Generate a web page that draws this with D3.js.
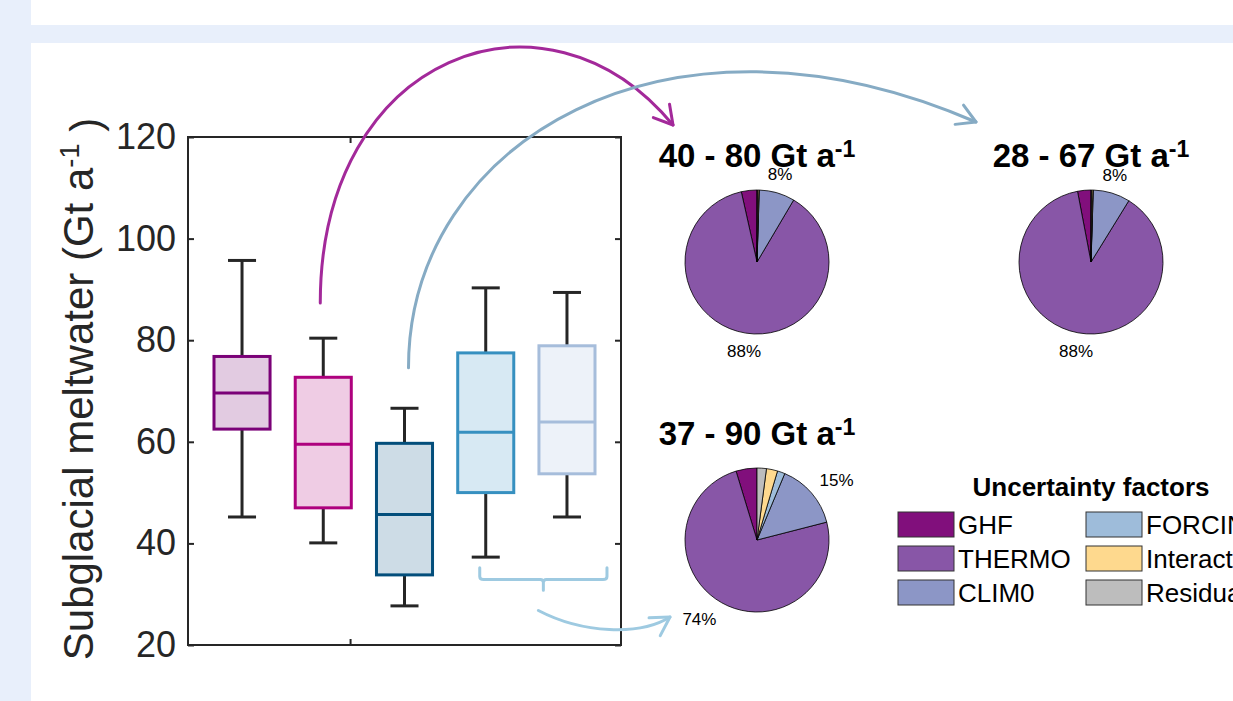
<!DOCTYPE html>
<html>
<head>
<meta charset="utf-8">
<script src="https://cdn.jsdelivr.net/npm/d3@7"></script>
<style>
  html, body { margin: 0; padding: 0; background: #e8effb; }
  svg { display: block; }
  text { font-family: "Liberation Sans", Arial, Helvetica, sans-serif; }
</style>
</head>
<body>
<svg id="chart" width="1233" height="701"></svg>
<script>
// ---- Box-plot statistics (Gt a^-1) for the five ensembles ----
const boxPositions = [1, 2, 3, 4, 5];
const whiskerLow  = [45.2, 40.1, 27.7, 37.3, 45.2];
const quartile1   = [62.5, 47.0, 33.8, 50.0, 53.7];
const medians     = [69.6, 59.5, 45.7, 61.9, 63.9];
const quartile3   = [76.8, 72.7, 59.7, 77.5, 78.9];
const whiskerHigh = [95.7, 80.4, 66.6, 90.3, 89.4];
const boxStroke   = ["#7a0177", "#ae017e", "#034e7b", "#3690c0", "#a6bddb"];
const boxFill     = ["#e2cbe1", "#efcce4", "#cddce6", "#d7e9f3", "#edf2f9"];

const yTicks = [20, 40, 60, 80, 100, 120];

// ---- Variance decomposition (%) of each meltwater range ----
const factors = ["GHF", "THERMO", "CLIM0", "FORCING", "Interaction", "Residual"];
const factorColors = ["#810f7c", "#8856a7", "#8c96c6", "#9ebcda", "#fed98e", "#bdbdbd"];
const sharesA = [3.5, 88.0, 8.0, 0.1, 0.3, 0.1];
const sharesB = [3.0, 88.2, 8.3, 0.1, 0.3, 0.1];
const sharesC = [4.7, 74.3, 14.7, 1.7, 2.5, 2.1];
const pieRanges = ["40 - 80", "28 - 67", "37 - 90"];

// ---- Layout ----
const svg = d3.select("#chart");
const W = 1233, H = 701;
const plot = { left: 188, right: 621, top: 137, bottom: 645 };
const ink = "#262626";

// panel backgrounds
svg.append("rect").attr("x", 0).attr("y", 0).attr("width", W).attr("height", H).attr("fill", "#e8effb");
svg.append("rect").attr("x", 31).attr("y", 0).attr("width", W - 31).attr("height", 25).attr("fill", "#fff");
svg.append("rect").attr("x", 31).attr("y", 43).attr("width", W - 31).attr("height", H - 43).attr("fill", "#fff");

const x = d3.scaleLinear().domain([0.335, 5.665]).range([plot.left, plot.right]);
const y = d3.scaleLinear().domain([20, 120]).range([plot.bottom, plot.top]);

// ---- Axes (box frame with inward ticks) ----
const g = svg.append("g");
const tickLen = 6;
const axL = g.append("g").attr("transform", `translate(${plot.left},0)`)
  .call(d3.axisLeft(y).tickValues(yTicks).tickSize(-tickLen).tickPadding(6 + tickLen));
const axR = g.append("g").attr("transform", `translate(${plot.right},0)`)
  .call(d3.axisRight(y).tickValues(yTicks).tickSize(-tickLen).tickFormat(""));
const axB = g.append("g").attr("transform", `translate(0,${plot.bottom})`)
  .call(d3.axisBottom(x).tickValues([2.33]).tickSize(-tickLen).tickFormat(""));
const axT = g.append("g").attr("transform", `translate(0,${plot.top})`)
  .call(d3.axisTop(x).tickValues([2.33]).tickSize(-tickLen).tickFormat(""));
[axL, axR, axB, axT].forEach(a => {
  a.select(".domain").remove();
  a.selectAll(".tick line").attr("stroke", ink).attr("stroke-width", 2);
});
axL.selectAll(".tick text").attr("fill", ink).attr("font-size", 36)
  .attr("font-family", "Liberation Sans, Arial, sans-serif");

g.append("rect")
  .attr("x", plot.left).attr("y", plot.top)
  .attr("width", plot.right - plot.left).attr("height", plot.bottom - plot.top)
  .attr("fill", "none").attr("stroke", ink).attr("stroke-width", 2);

// y-axis title
const yl = svg.append("text")
  .attr("transform", `translate(93,${(plot.top + plot.bottom) / 2 - 2}) rotate(-90)`)
  .attr("text-anchor", "middle").attr("font-size", 42).attr("fill", ink);
yl.append("tspan").text("Subglacial meltwater (Gt a");
yl.append("tspan").attr("dy", "-0.5em").attr("font-size", "0.65em").text("-1");
yl.append("tspan").attr("dy", "0.5em").text(" )");

// ---- Box plots ----
const boxW = 0.69, capW = 0.345;
const boxes = boxPositions.map((p, i) => ({
  p, lo: whiskerLow[i], q1: quartile1[i], med: medians[i], q3: quartile3[i], hi: whiskerHigh[i],
  stroke: boxStroke[i], fill: boxFill[i]
}));
const bg = g.selectAll("g.box").data(boxes).join("g").attr("class", "box");
bg.append("line").attr("x1", d => x(d.p)).attr("x2", d => x(d.p))
  .attr("y1", d => y(d.hi)).attr("y2", d => y(d.q3)).attr("stroke", ink).attr("stroke-width", 3);
bg.append("line").attr("x1", d => x(d.p)).attr("x2", d => x(d.p))
  .attr("y1", d => y(d.q1)).attr("y2", d => y(d.lo)).attr("stroke", ink).attr("stroke-width", 3);
bg.append("line").attr("x1", d => x(d.p - capW / 2)).attr("x2", d => x(d.p + capW / 2))
  .attr("y1", d => y(d.hi)).attr("y2", d => y(d.hi)).attr("stroke", ink).attr("stroke-width", 3);
bg.append("line").attr("x1", d => x(d.p - capW / 2)).attr("x2", d => x(d.p + capW / 2))
  .attr("y1", d => y(d.lo)).attr("y2", d => y(d.lo)).attr("stroke", ink).attr("stroke-width", 3);
bg.append("rect").attr("x", d => x(d.p - boxW / 2)).attr("width", d => x(d.p + boxW / 2) - x(d.p - boxW / 2))
  .attr("y", d => y(d.q3)).attr("height", d => y(d.q1) - y(d.q3))
  .attr("fill", d => d.fill).attr("stroke", d => d.stroke).attr("stroke-width", 3);
bg.append("line").attr("x1", d => x(d.p - boxW / 2)).attr("x2", d => x(d.p + boxW / 2))
  .attr("y1", d => y(d.med)).attr("y2", d => y(d.med)).attr("stroke", d => d.stroke).attr("stroke-width", 3);

// ---- Pie charts (first slice starts at 12 o'clock, counter-clockwise) ----
const R = 72;
const pies = [
  { cx: 757,  cy: 262, shares: sharesA, range: pieRanges[0] },
  { cx: 1091, cy: 262, shares: sharesB, range: pieRanges[1] },
  { cx: 757,  cy: 540, shares: sharesC, range: pieRanges[2] }
];
const pieGen = d3.pie().sort(null).startAngle(0).endAngle(-2 * Math.PI).value(o => o.v);
const arcGen = d3.arc().innerRadius(0).outerRadius(R);

pies.forEach(pd => {
  const pg = svg.append("g").attr("transform", `translate(${pd.cx},${pd.cy})`);
  const data = pieGen(pd.shares.map((v, i) => ({ v, i })));
  pg.selectAll("path").data(data).join("path")
    .attr("d", arcGen)
    .attr("fill", d => factorColors[d.data.i])
    .attr("stroke", "#000").attr("stroke-width", 0.8).attr("stroke-linejoin", "round");
  const total = d3.sum(pd.shares);
  pg.selectAll("text.pct").data(data.filter(d => d.data.v / total >= 0.05)).join("text")
    .attr("class", "pct")
    .each(function (d) {
      const a = (d.startAngle + d.endAngle) / 2;
      const s = Math.sin(a), c = Math.cos(a);
      d3.select(this)
        .attr("x", 1.15 * R * s).attr("y", -1.26 * R * c)
        .attr("text-anchor", s > 0.3 ? "start" : s < -0.3 ? "end" : "middle");
    })
    .attr("dominant-baseline", "central").attr("font-size", 17).attr("fill", "#000")
    .text(d => Math.round(d.data.v / total * 100) + "%");
  const t = pg.append("text").attr("x", 0).attr("y", -95).attr("text-anchor", "middle")
    .attr("font-size", 33).attr("font-weight", "bold").attr("fill", "#000");
  t.append("tspan").text(pd.range + " Gt a");
  t.append("tspan").attr("dy", "-0.45em").attr("font-size", "0.7em").text("-1");
});

// ---- Legend ----
const lg = svg.append("g");
lg.append("text").attr("x", 1091).attr("y", 496).attr("text-anchor", "middle")
  .attr("font-size", 26).attr("font-weight", "bold").attr("fill", "#000").text("Uncertainty factors");
const legendCols = [898, 1086], legendRows = [512, 546, 580];
factors.forEach((f, i) => {
  const lx = legendCols[Math.floor(i / 3)], ly = legendRows[i % 3];
  lg.append("rect").attr("x", lx).attr("y", ly).attr("width", 56).attr("height", 25)
    .attr("fill", factorColors[i]).attr("stroke", "#333").attr("stroke-width", 1);
  lg.append("text").attr("x", lx + 60).attr("y", ly + 13).attr("dominant-baseline", "central")
    .attr("font-size", 26).attr("fill", "#000").text(f);
});

// ---- Connector arrows from ensembles to their pie charts ----
function arrowHead(sel, tip, from, color) {
  const ang = Math.atan2(from[1] - tip[1], from[0] - tip[0]);
  const L = 21, spread = Math.PI / 6;
  const p1 = [tip[0] + L * Math.cos(ang + spread), tip[1] + L * Math.sin(ang + spread)];
  const p2 = [tip[0] + L * Math.cos(ang - spread), tip[1] + L * Math.sin(ang - spread)];
  sel.append("path").attr("d", `M${p1}L${tip}L${p2}`).attr("fill", "none")
    .attr("stroke", color).attr("stroke-width", 3).attr("stroke-linecap", "round").attr("stroke-linejoin", "round");
}
function connector(p0, p1, p2, p3, color) {
  const cg = svg.append("g");
  const path = d3.path();
  path.moveTo(...p0);
  path.bezierCurveTo(...p1, ...p2, ...p3);
  cg.append("path").attr("d", path.toString()).attr("fill", "none")
    .attr("stroke", color).attr("stroke-width", 3).attr("stroke-linecap", "round");
  arrowHead(cg, p3, p2, color);
}

// box 2 -> first pie
{
  const s = [x(2) - 3, y(87.3)];
  const e = [pies[0].cx - 84, pies[0].cy - 137];
  connector(s, [s[0], s[1] - 250], [e[0] - 127, e[1] - 154], e, "#a3299a");
}
// box 3 -> second pie
{
  const s = [x(3) + 4, y(74.6)];
  const e = [pies[1].cx - 115, pies[1].cy - 140];
  connector(s, [s[0], s[1] - 225], [e[0] - 310, e[1] - 135], e, "#86abc4");
}
// bracket over boxes 4-5 -> third pie
{
  const bc = "#9ecae1";
  const xl = x(4) - 6, xr = x(5) + 40, xm = (xl + xr) / 2;
  const yTop = y(35.2), yBar = y(32.9), yStub = y(30.8);
  const b = d3.path();
  b.moveTo(xl, yTop); b.lineTo(xl, yBar - 3); b.quadraticCurveTo(xl, yBar, xl + 4, yBar);
  b.lineTo(xm - 3, yBar); b.quadraticCurveTo(xm, yBar, xm, yBar + 3); b.lineTo(xm, yStub);
  b.moveTo(xr, yTop); b.lineTo(xr, yBar - 3); b.quadraticCurveTo(xr, yBar, xr - 4, yBar);
  b.lineTo(xm + 3, yBar); b.quadraticCurveTo(xm, yBar, xm, yBar + 3);
  svg.append("path").attr("d", b.toString()).attr("fill", "none").attr("stroke", bc)
    .attr("stroke-width", 3).attr("stroke-linecap", "round");
  const s = [xm - 5, y(26.8)];
  const e = [pies[2].cx - 87, pies[2].cy + 77];
  connector(s, [s[0] + 44, s[1] + 23], [e[0] - 30, e[1] + 19], e, bc);
}
</script>
</body>
</html>
